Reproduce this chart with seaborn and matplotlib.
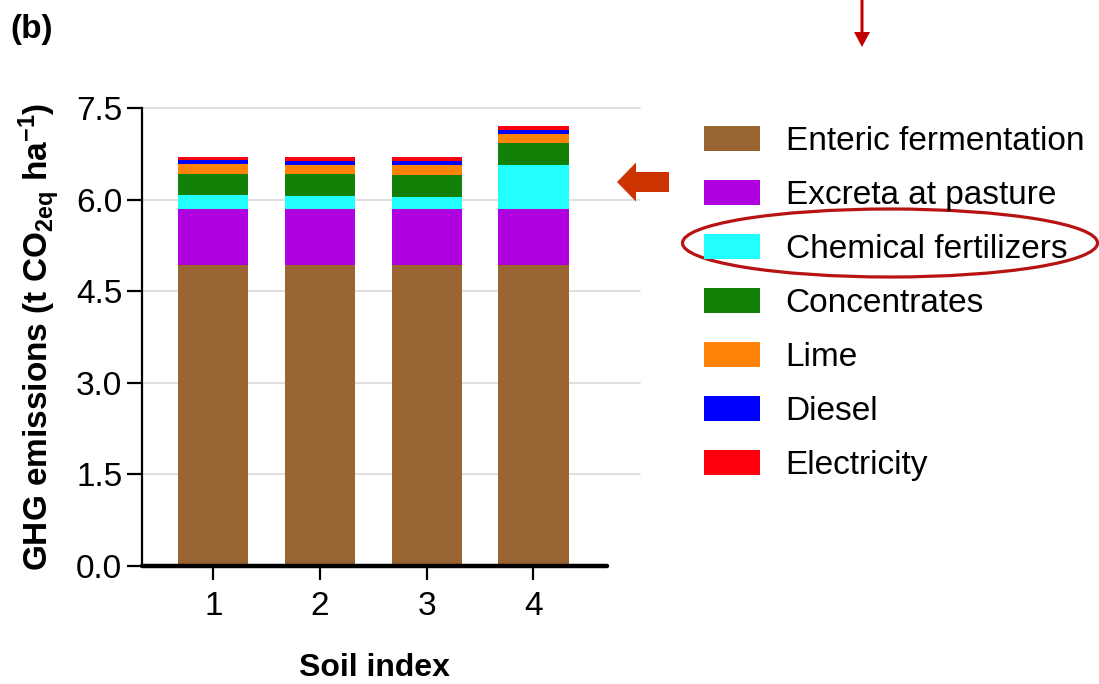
import numpy as np
import pandas as pd
import matplotlib
matplotlib.use("Agg")
import matplotlib.pyplot as plt
from matplotlib.patches import Patch, Ellipse, FancyArrow
import seaborn as sns

# Emission sources per soil index (t CO2eq ha-1)
soil_index = ["1", "2", "3", "4"]
sources = ["Enteric fermentation", "Excreta at pasture", "Chemical fertilizers",
           "Concentrates", "Lime", "Diesel", "Electricity"]
enteric = [4.93, 4.93, 4.93, 4.93]
excreta = [0.92, 0.92, 0.92, 0.92]
fertilizers = [0.22, 0.21, 0.20, 0.715]
concentrates = [0.355, 0.355, 0.355, 0.355]
lime = [0.15, 0.15, 0.16, 0.15]
diesel = [0.07, 0.065, 0.06, 0.077]
electricity = [0.06, 0.065, 0.065, 0.055]
colors = ["#996633", "#B000E0", "#22FFFF", "#138007", "#FF8309", "#0000FF", "#FF0010"]
y_ticks = [0.0, 1.5, 3.0, 4.5, 6.0, 7.5]

sns.set_theme(style="white")
plt.rcParams["font.family"] = ["Liberation Sans", "DejaVu Sans"]
plt.rcParams["mathtext.fontset"] = "custom"
plt.rcParams["mathtext.rm"] = "Liberation Sans"
plt.rcParams["mathtext.bf"] = "Liberation Sans:bold"
plt.rcParams["mathtext.default"] = "bf"
for key in ["text.color", "axes.labelcolor", "xtick.color", "ytick.color"]:
    plt.rcParams[key] = "black"

layers = [enteric, excreta, fertilizers, concentrates, lime, diesel, electricity]
df = pd.DataFrame({"soil": soil_index})
for name, vals in zip(sources, layers):
    df[name] = vals
cum = df[sources].cumsum(axis=1)

W, H = 1099, 684
fig = plt.figure(figsize=(W / 100, H / 100), dpi=100)
ax = fig.add_axes([0.129, 0.1725, 0.4535, 0.6696])

# Stack by drawing cumulative totals from the top layer down
for name, col in reversed(list(zip(sources, colors))):
    sns.barplot(x=df["soil"], y=cum[name], color=col, width=0.66,
                saturation=1, ax=ax, linewidth=0, zorder=3)

ax.set_xlim(-0.67, 4.0)
ax.set_ylim(0, 7.5)
ax.set_yticks(y_ticks)
ax.set_yticklabels([f"{v:.1f}" for v in y_ticks], fontsize=24)
ax.set_xticks(range(len(soil_index)))
ax.set_xticklabels(soil_index, fontsize=24)

for v in y_ticks[1:]:
    ax.axhline(v, color="#d9d9d9", lw=1.2, zorder=1, clip_on=False)

for s in ["top", "right"]:
    ax.spines[s].set_visible(False)
ax.spines["left"].set_linewidth(1.6)
ax.spines["left"].set_color("black")
ax.spines["bottom"].set_linewidth(3.2)
ax.spines["bottom"].set_color("black")
ax.spines["bottom"].set_bounds(-0.67, 3.69)
ax.spines["bottom"].set_zorder(5)
ax.spines["bottom"].set_capstyle("round")

ax.tick_params(axis="y", direction="out", length=11, width=1.6, pad=3,
               left=True, color="black", labelcolor="black")
ax.tick_params(axis="x", direction="out", length=10, width=1.6, pad=8,
               bottom=True, color="black", labelcolor="black")

ax.set_ylabel("GHG emissions (t CO$_{2eq}$ ha$^{-1}$)", fontsize=24,
              fontweight="bold", labelpad=10, color="black")
ax.set_xlabel("Soil index", fontsize=23, fontweight="bold", color="black")
ax.xaxis.set_label_coords(0.466, -0.19)

handles = [Patch(facecolor=c, edgecolor="none") for c in colors]
fig.legend(handles, sources, loc="upper left", bbox_to_anchor=(0.628, 0.835),
           frameon=False, fontsize=24, handlelength=1.68, handleheight=0.75,
           handletextpad=0.78, labelspacing=0.69, borderaxespad=0,
           labelcolor="black")

fig.text(0.009, 0.957, "(b)", fontsize=24, fontweight="bold", va="center", ha="left")

# Highlight around the fertilizer entry
fig.add_artist(Ellipse((890 / W, 1 - 243 / H), 415 / W, 68 / H,
                       transform=fig.transFigure, fill=False,
                       edgecolor="#B81313", lw=2.3))

# Pointer arrows (figure pixel coordinates, origin at bottom-left)
fig.add_artist(FancyArrow(862, H, 0, -47, width=3, head_width=16,
                          head_length=15, length_includes_head=True,
                          transform=None, color="#C00000", lw=0))
fig.add_artist(FancyArrow(669, H - 182, -52, 0, width=20, head_width=39,
                          head_length=19, length_includes_head=True,
                          transform=None, color="#CC3300", lw=0))

fig.savefig("out.png", dpi=100)
